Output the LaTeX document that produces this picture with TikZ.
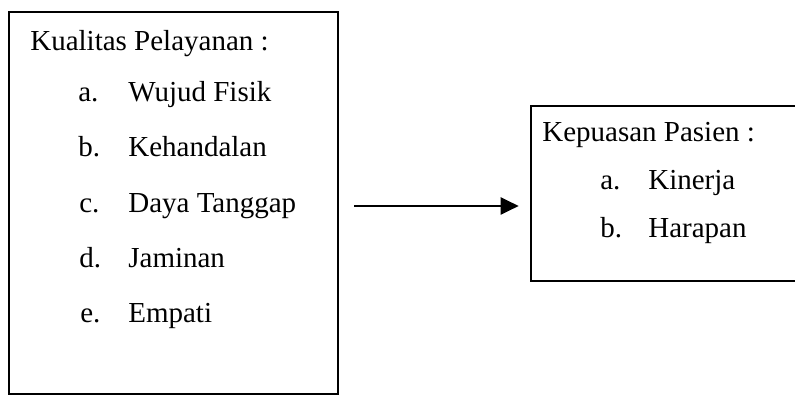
\documentclass[tikz,border=0pt]{standalone}
\usepackage{fontspec}
\setmainfont{Liberation Serif}
\usetikzlibrary{arrows.meta}

\begin{document}
\begin{tikzpicture}[
   font=\fontsize{16.5}{20}\selectfont,
   box/.style={draw, line width=1.5pt, inner sep=0pt},
   txt/.style={anchor=base west, inner sep=0pt},
   arr/.style={line width=1.2pt, -{Triangle[length=0.36cm,width=0.34cm]}}
]
   \useasboundingbox (0,0) rectangle (15.9,7.94);

   \node[box, minimum width=6.58cm, minimum height=7.64cm] (lbox) at (3.47,3.88) {};
   \node[box, minimum width=5.38cm, minimum height=3.50cm] (rbox) at (13.31,4.07) {};

   \node[txt] (kual) at (0.60,6.92) {Kualitas Pelayanan :};
   \node[txt] (la)  at (1.56,5.90) {a.};  \node[txt] (lat) at (2.56,5.90) {Wujud Fisik};
   \node[txt] (lb)  at (1.56,4.80) {b.};  \node[txt] (lbt) at (2.56,4.80) {Kehandalan};
   \node[txt] (lc)  at (1.58,3.68) {c.};  \node[txt] (lct) at (2.56,3.68) {Daya Tanggap};
   \node[txt] (ld)  at (1.58,2.58) {d.};  \node[txt] (ldt) at (2.56,2.58) {Jaminan};
   \node[txt] (le)  at (1.60,1.48) {e.};  \node[txt] (let) at (2.56,1.48) {Empati};

   \node[txt] (kep) at (10.84,5.10) {Kepuasan Pasien :};
   \node[txt] (ra)  at (12.00,4.14) {a.};  \node[txt] (rat) at (12.96,4.14) {Kinerja};
   \node[txt] (rb)  at (12.00,3.18) {b.};  \node[txt] (rbt) at (12.96,3.18) {Harapan};

   \draw[arr, shorten <=0.30cm, shorten >=0.22cm]
      ([yshift=-0.06cm]lbox.east) -- ([yshift=-0.06cm]lbox.east -| rbox.west);
\end{tikzpicture}
\end{document}
